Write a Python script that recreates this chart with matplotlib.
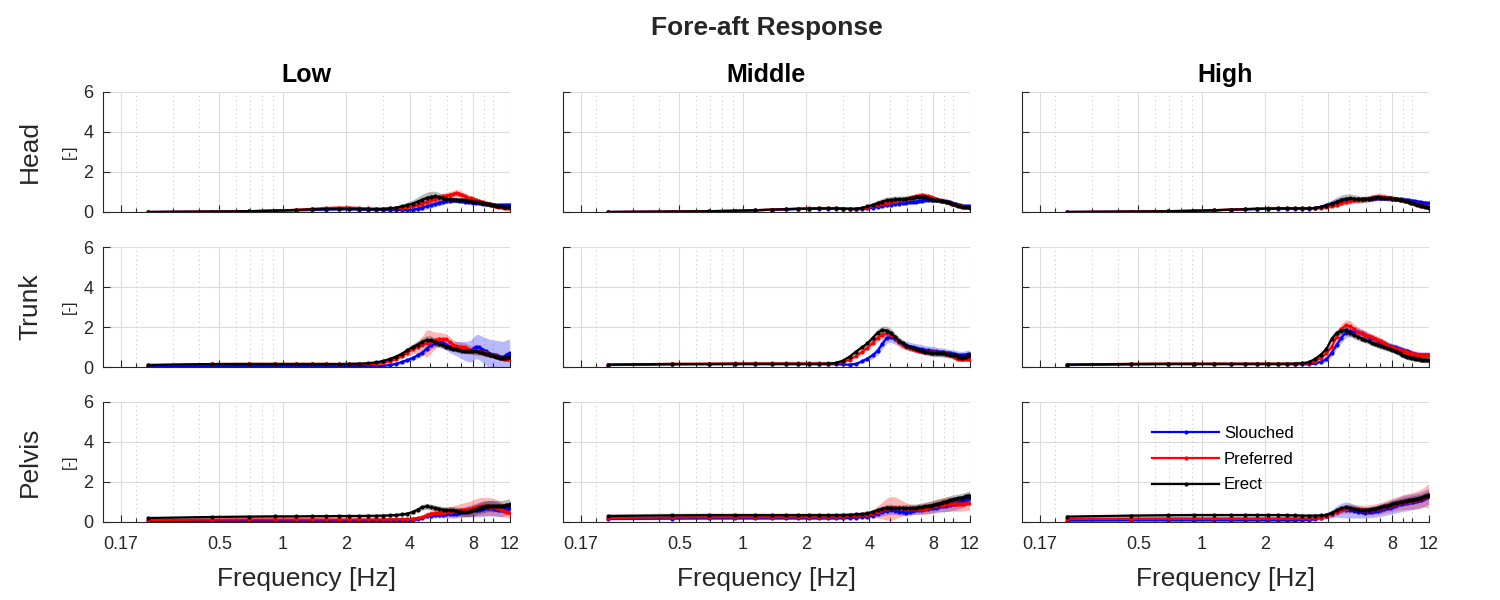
import matplotlib
matplotlib.use('Agg')
import matplotlib.pyplot as plt
import numpy as np
from matplotlib.ticker import FixedLocator, NullFormatter

plt.rcParams['font.family'] = ['Liberation Sans', 'DejaVu Sans']

freq = [0.23, 0.46, 0.69, 0.92, 1.15, 1.38, 1.61, 1.84,
        2.07, 2.30, 2.53, 2.76, 2.99, 3.22, 3.45, 3.68, 3.91,
        4.14, 4.37, 4.60, 4.83, 5.06, 5.29, 5.52, 5.75, 5.98, 6.21, 6.44, 6.67, 6.90, 7.13, 7.36, 7.59, 7.82,
        8.05, 8.28, 8.51, 8.74, 8.97, 9.20, 9.43, 9.66, 9.89, 10.12, 10.35, 10.58, 10.81, 11.04, 11.27, 11.50, 11.73, 11.96]

columns = ['Low', 'Middle', 'High']
rows = ['Head', 'Trunk', 'Pelvis']
postures = ['Slouched', 'Preferred', 'Erect']
colors = ['#0000ff', '#ff0000', '#000000']

x_major = [0.17, 0.5, 1, 2, 4, 8, 12]
x_major_labels = ['0.17', '0.5', '1', '2', '4', '8', '12']
x_minor = [0.2, 0.3, 0.4, 0.6, 0.7, 0.8, 0.9, 3, 5, 6, 7, 9, 10]
y_ticks = [0, 2, 4, 6]

# ---- Low / Head
lh_s = [0.00,0.02,0.04,0.06,0.08,0.10,0.12,0.13, 0.13,0.12,0.11,0.11,0.10,0.10,0.10,0.10,0.10,
        0.12,0.16,0.22,0.28,0.34,0.40,0.45,0.50,0.54,0.57,0.58,0.58,0.56,0.54,0.52,0.50,0.48,
        0.47,0.46,0.45,0.44,0.42,0.40,0.38,0.36,0.35,0.34,0.34,0.34,0.34,0.34,0.35,0.35,0.35,0.35]
lh_p = [0.00,0.02,0.04,0.07,0.11,0.16,0.20,0.22, 0.22,0.20,0.18,0.17,0.17,0.18,0.20,0.22,0.24,
        0.28,0.34,0.42,0.50,0.58,0.65,0.72,0.78,0.82,0.86,0.90,0.95,0.92,0.85,0.78,0.72,0.68,
        0.64,0.60,0.56,0.52,0.48,0.45,0.42,0.38,0.35,0.32,0.30,0.27,0.25,0.23,0.22,0.20,0.20,0.19]
lh_e = [0.00,0.02,0.04,0.07,0.10,0.13,0.15,0.16, 0.16,0.15,0.14,0.14,0.15,0.18,0.22,0.28,0.35,
        0.42,0.52,0.62,0.70,0.76,0.78,0.75,0.70,0.66,0.63,0.62,0.61,0.60,0.60,0.58,0.56,0.54,
        0.52,0.50,0.48,0.46,0.44,0.42,0.40,0.38,0.36,0.34,0.32,0.30,0.29,0.28,0.27,0.26,0.25,0.24]
lh_s_sd = [0.00,0.01,0.01,0.02,0.02,0.03,0.03,0.03, 0.03,0.03,0.03,0.03,0.03,0.03,0.04,0.05,0.06,
           0.08,0.10,0.12,0.13,0.14,0.14,0.14,0.14,0.13,0.13,0.12,0.12,0.12,0.11,0.11,0.10,0.10,
           0.10,0.10,0.09,0.09,0.09,0.09,0.08,0.08,0.08,0.08,0.08,0.08,0.08,0.08,0.09,0.09,0.09,0.09]
lh_p_sd = [0.00,0.01,0.02,0.02,0.03,0.04,0.05,0.05, 0.05,0.05,0.05,0.04,0.04,0.05,0.05,0.06,0.07,
           0.08,0.10,0.12,0.14,0.15,0.16,0.17,0.17,0.17,0.17,0.17,0.18,0.18,0.17,0.16,0.15,0.14,
           0.13,0.12,0.11,0.10,0.10,0.09,0.09,0.08,0.08,0.08,0.07,0.07,0.07,0.07,0.06,0.06,0.06,0.06]
lh_e_sd = [0.00,0.01,0.02,0.02,0.03,0.03,0.04,0.04, 0.04,0.04,0.04,0.04,0.05,0.06,0.08,0.10,0.14,
           0.18,0.22,0.26,0.28,0.28,0.26,0.22,0.18,0.16,0.15,0.14,0.13,0.12,0.12,0.11,0.11,0.10,
           0.10,0.10,0.09,0.09,0.09,0.08,0.08,0.08,0.08,0.07,0.07,0.07,0.07,0.07,0.07,0.07,0.07,0.07]

# ---- Low / Trunk
lt_s = [0.05,0.05,0.05,0.05,0.05,0.05,0.05,0.05, 0.05,0.05,0.05,0.05,0.06,0.10,0.16,0.25,0.35,
        0.45,0.58,0.72,0.92,1.10,1.22,1.27,1.22,1.12,1.02,0.96,0.92,0.88,0.84,0.80,0.78,0.80,
        0.92,1.02,1.00,0.92,0.85,0.78,0.72,0.66,0.62,0.60,0.58,0.55,0.52,0.50,0.52,0.58,0.64,0.68]
lt_p = [0.10,0.15,0.16,0.16,0.16,0.16,0.16,0.15, 0.15,0.15,0.15,0.16,0.20,0.28,0.40,0.55,0.72,
        0.88,1.00,1.10,1.18,1.25,1.33,1.40,1.40,1.38,1.25,1.12,1.05,1.02,1.00,0.98,0.92,0.86,
        0.82,0.80,0.78,0.76,0.73,0.70,0.66,0.62,0.60,0.58,0.54,0.50,0.46,0.43,0.41,0.39,0.38,0.38]
lt_e = [0.10,0.15,0.15,0.15,0.15,0.15,0.15,0.15, 0.16,0.17,0.19,0.23,0.30,0.40,0.52,0.67,0.84,
        1.00,1.12,1.25,1.35,1.33,1.25,1.15,1.08,1.02,0.97,0.92,0.88,0.84,0.81,0.79,0.78,0.78,
        0.78,0.78,0.76,0.73,0.70,0.66,0.63,0.60,0.58,0.56,0.52,0.48,0.45,0.44,0.45,0.47,0.48,0.50]
lt_s_sd = [0.02,0.02,0.02,0.02,0.02,0.02,0.02,0.02, 0.02,0.02,0.02,0.02,0.03,0.04,0.06,0.08,0.10,
           0.12,0.14,0.16,0.18,0.20,0.22,0.24,0.26,0.28,0.30,0.32,0.36,0.40,0.44,0.48,0.52,0.55,
           0.58,0.60,0.62,0.64,0.66,0.68,0.70,0.72,0.74,0.75,0.76,0.77,0.78,0.78,0.78,0.76,0.74,0.72]
lt_p_sd = [0.02,0.03,0.03,0.03,0.03,0.03,0.03,0.03, 0.03,0.03,0.03,0.03,0.04,0.06,0.09,0.12,0.16,
           0.22,0.32,0.45,0.70,0.55,0.42,0.34,0.30,0.28,0.26,0.25,0.24,0.24,0.23,0.22,0.22,0.22,
           0.22,0.22,0.21,0.20,0.19,0.18,0.17,0.16,0.16,0.15,0.14,0.14,0.13,0.13,0.12,0.12,0.12,0.12]
lt_e_sd = [0.02,0.02,0.02,0.02,0.02,0.02,0.02,0.02, 0.02,0.02,0.03,0.04,0.05,0.07,0.09,0.11,0.13,
           0.15,0.17,0.20,0.22,0.22,0.20,0.18,0.17,0.16,0.15,0.14,0.14,0.13,0.13,0.13,0.13,0.13,
           0.13,0.13,0.13,0.13,0.12,0.12,0.12,0.11,0.11,0.11,0.10,0.10,0.10,0.10,0.10,0.10,0.10,0.10]

# ---- Low / Pelvis
lp_s = [0.04,0.05,0.05,0.05,0.05,0.05,0.05,0.05, 0.05,0.05,0.05,0.05,0.05,0.05,0.05,0.05,0.05,
        0.08,0.14,0.22,0.28,0.32,0.35,0.36,0.37,0.38,0.38,0.38,0.40,0.44,0.48,0.52,0.54,0.56,
        0.58,0.60,0.62,0.64,0.66,0.68,0.68,0.68,0.68,0.66,0.64,0.62,0.60,0.60,0.62,0.64,0.66,0.68]
lp_p = [0.10,0.12,0.13,0.13,0.13,0.13,0.13,0.13, 0.13,0.13,0.13,0.13,0.13,0.14,0.14,0.15,0.15,
        0.17,0.20,0.24,0.35,0.42,0.45,0.46,0.47,0.50,0.52,0.54,0.56,0.58,0.60,0.62,0.64,0.66,
        0.70,0.74,0.77,0.78,0.78,0.78,0.78,0.77,0.76,0.74,0.72,0.68,0.64,0.60,0.56,0.52,0.48,0.45]
lp_e = [0.20,0.25,0.27,0.28,0.28,0.29,0.29,0.30, 0.30,0.30,0.31,0.31,0.32,0.33,0.35,0.38,0.42,
        0.50,0.62,0.74,0.78,0.74,0.70,0.66,0.62,0.60,0.60,0.58,0.56,0.52,0.50,0.49,0.50,0.54,
        0.58,0.62,0.68,0.72,0.76,0.78,0.80,0.80,0.80,0.80,0.80,0.80,0.80,0.80,0.82,0.84,0.86,0.88]
lp_s_sd = [0.03,0.03,0.03,0.03,0.03,0.03,0.03,0.03, 0.03,0.03,0.03,0.03,0.03,0.03,0.03,0.04,0.04,
           0.05,0.07,0.09,0.11,0.13,0.14,0.15,0.16,0.17,0.18,0.19,0.20,0.22,0.24,0.26,0.28,0.30,
           0.32,0.34,0.36,0.37,0.38,0.38,0.38,0.38,0.38,0.37,0.36,0.35,0.34,0.33,0.32,0.31,0.30,0.30]
lp_p_sd = [0.04,0.04,0.04,0.04,0.04,0.04,0.04,0.04, 0.04,0.04,0.04,0.04,0.04,0.04,0.05,0.05,0.06,
           0.07,0.09,0.11,0.14,0.16,0.18,0.20,0.22,0.24,0.26,0.28,0.30,0.32,0.34,0.36,0.38,0.40,
           0.42,0.43,0.44,0.45,0.45,0.45,0.45,0.44,0.43,0.42,0.40,0.38,0.36,0.34,0.32,0.30,0.28,0.26]
lp_e_sd = [0.06,0.07,0.07,0.07,0.07,0.07,0.07,0.07, 0.07,0.07,0.07,0.07,0.07,0.07,0.08,0.08,0.09,
           0.10,0.12,0.14,0.15,0.15,0.15,0.15,0.15,0.16,0.17,0.18,0.19,0.20,0.21,0.22,0.23,0.24,
           0.25,0.26,0.27,0.28,0.28,0.28,0.28,0.28,0.28,0.28,0.28,0.28,0.28,0.28,0.28,0.28,0.28,0.28]

# ---- Middle / Head
mh_s = [0.00,0.02,0.04,0.06,0.08,0.11,0.13,0.15, 0.16,0.17,0.17,0.17,0.16,0.15,0.15,0.16,0.18,
        0.22,0.26,0.30,0.34,0.37,0.40,0.42,0.44,0.46,0.48,0.50,0.52,0.55,0.57,0.59,0.60,0.60,
        0.60,0.59,0.58,0.57,0.56,0.54,0.52,0.49,0.46,0.42,0.39,0.36,0.33,0.31,0.30,0.30,0.30,0.30]
mh_p = [0.00,0.02,0.04,0.06,0.09,0.12,0.15,0.17, 0.18,0.19,0.19,0.18,0.17,0.16,0.16,0.18,0.22,
        0.28,0.34,0.40,0.45,0.50,0.55,0.58,0.62,0.66,0.70,0.74,0.78,0.82,0.84,0.82,0.78,0.74,
        0.70,0.66,0.62,0.58,0.55,0.52,0.49,0.46,0.42,0.39,0.36,0.33,0.30,0.28,0.27,0.26,0.26,0.25]
mh_e = [0.00,0.02,0.04,0.06,0.09,0.12,0.14,0.16, 0.17,0.18,0.18,0.18,0.17,0.16,0.16,0.20,0.28,
        0.35,0.44,0.52,0.58,0.61,0.63,0.63,0.64,0.65,0.68,0.71,0.74,0.76,0.76,0.74,0.70,0.66,
        0.62,0.60,0.58,0.56,0.54,0.52,0.49,0.46,0.42,0.38,0.35,0.32,0.29,0.27,0.25,0.24,0.23,0.22]
mh_s_sd = [0.00,0.01,0.01,0.02,0.02,0.03,0.03,0.03, 0.03,0.03,0.03,0.03,0.03,0.03,0.04,0.05,0.06,
           0.07,0.08,0.09,0.10,0.10,0.10,0.10,0.10,0.10,0.10,0.10,0.10,0.10,0.10,0.10,0.10,0.10,
           0.10,0.09,0.09,0.09,0.09,0.08,0.08,0.08,0.08,0.07,0.07,0.07,0.07,0.06,0.06,0.06,0.06,0.06]
mh_p_sd = [0.00,0.01,0.02,0.02,0.03,0.03,0.04,0.04, 0.04,0.04,0.04,0.04,0.04,0.04,0.05,0.06,0.07,
           0.08,0.10,0.12,0.13,0.14,0.14,0.14,0.14,0.14,0.14,0.14,0.14,0.14,0.14,0.14,0.13,0.12,
           0.12,0.11,0.10,0.10,0.09,0.09,0.08,0.08,0.08,0.07,0.07,0.07,0.07,0.06,0.06,0.06,0.06,0.06]
mh_e_sd = [0.00,0.01,0.02,0.02,0.03,0.03,0.04,0.04, 0.04,0.04,0.04,0.04,0.04,0.05,0.06,0.08,0.10,
           0.12,0.14,0.16,0.17,0.17,0.17,0.16,0.16,0.15,0.15,0.14,0.14,0.14,0.13,0.13,0.12,0.12,
           0.11,0.10,0.10,0.09,0.09,0.08,0.08,0.08,0.07,0.07,0.07,0.06,0.06,0.06,0.06,0.06,0.06,0.06]

# ---- Middle / Trunk
mt_s = [0.10,0.13,0.14,0.14,0.14,0.14,0.14,0.14, 0.14,0.14,0.14,0.14,0.13,0.12,0.16,0.28,0.42,
        0.58,0.80,1.15,1.45,1.50,1.38,1.25,1.15,1.08,1.02,0.98,0.95,0.92,0.88,0.85,0.83,0.82,
        0.80,0.78,0.76,0.75,0.74,0.72,0.70,0.68,0.66,0.64,0.62,0.60,0.58,0.58,0.60,0.62,0.64,0.65]
mt_p = [0.12,0.16,0.17,0.18,0.18,0.18,0.18,0.18, 0.18,0.18,0.18,0.19,0.24,0.36,0.55,0.75,0.95,
        1.20,1.45,1.62,1.68,1.62,1.45,1.25,1.12,1.02,0.95,0.90,0.85,0.80,0.78,0.76,0.75,0.74,
        0.74,0.74,0.72,0.70,0.68,0.66,0.64,0.62,0.58,0.52,0.46,0.42,0.40,0.40,0.40,0.40,0.40,0.40]
mt_e = [0.12,0.15,0.15,0.16,0.16,0.16,0.16,0.16, 0.16,0.16,0.17,0.20,0.32,0.52,0.77,0.98,1.18,
        1.45,1.72,1.85,1.82,1.70,1.50,1.32,1.18,1.06,1.00,0.95,0.90,0.84,0.80,0.76,0.73,0.72,
        0.70,0.70,0.70,0.68,0.68,0.66,0.64,0.62,0.62,0.60,0.58,0.52,0.48,0.45,0.48,0.52,0.56,0.60]
mt_s_sd = [0.02,0.02,0.02,0.02,0.02,0.02,0.02,0.02, 0.02,0.02,0.02,0.02,0.02,0.03,0.05,0.08,0.12,
           0.16,0.20,0.24,0.26,0.26,0.24,0.22,0.22,0.22,0.22,0.22,0.22,0.22,0.22,0.22,0.22,0.22,
           0.22,0.22,0.21,0.21,0.20,0.20,0.20,0.20,0.20,0.20,0.20,0.20,0.20,0.20,0.20,0.20,0.20,0.20]
mt_p_sd = [0.02,0.03,0.03,0.03,0.03,0.03,0.03,0.03, 0.03,0.03,0.03,0.03,0.04,0.05,0.07,0.10,0.13,
           0.16,0.18,0.20,0.20,0.19,0.18,0.17,0.16,0.15,0.14,0.14,0.13,0.13,0.13,0.13,0.13,0.13,
           0.13,0.13,0.13,0.12,0.12,0.12,0.12,0.12,0.12,0.12,0.12,0.12,0.12,0.12,0.12,0.12,0.12,0.12]
mt_e_sd = [0.02,0.02,0.02,0.02,0.02,0.02,0.02,0.02, 0.02,0.02,0.02,0.03,0.04,0.06,0.08,0.10,0.12,
           0.14,0.17,0.20,0.22,0.22,0.20,0.18,0.16,0.15,0.14,0.14,0.14,0.14,0.15,0.16,0.17,0.18,
           0.18,0.18,0.18,0.18,0.18,0.18,0.18,0.18,0.18,0.18,0.17,0.17,0.16,0.16,0.16,0.16,0.16,0.16]

# ---- Middle / Pelvis
mp_s = [0.15,0.17,0.18,0.18,0.18,0.18,0.18,0.18, 0.18,0.18,0.18,0.18,0.19,0.20,0.22,0.24,0.27,
        0.32,0.40,0.48,0.55,0.58,0.56,0.52,0.48,0.47,0.50,0.54,0.58,0.60,0.62,0.64,0.66,0.68,
        0.70,0.72,0.75,0.78,0.80,0.82,0.84,0.86,0.88,0.90,0.92,0.95,0.98,1.02,1.06,1.10,1.14,1.18]
mp_p = [0.20,0.23,0.24,0.24,0.24,0.24,0.24,0.24, 0.24,0.24,0.24,0.25,0.26,0.28,0.30,0.33,0.36,
        0.42,0.50,0.58,0.64,0.68,0.70,0.70,0.68,0.66,0.65,0.64,0.63,0.63,0.64,0.66,0.70,0.74,
        0.78,0.82,0.85,0.86,0.87,0.88,0.88,0.89,0.90,0.90,0.90,0.90,0.90,0.90,0.92,0.93,0.93,0.94]
mp_e = [0.30,0.33,0.34,0.34,0.34,0.34,0.34,0.34, 0.34,0.34,0.34,0.34,0.35,0.36,0.38,0.40,0.43,
        0.50,0.58,0.66,0.72,0.72,0.70,0.70,0.70,0.70,0.70,0.70,0.71,0.73,0.75,0.78,0.80,0.82,
        0.85,0.88,0.92,0.95,0.98,1.02,1.06,1.10,1.12,1.14,1.16,1.18,1.20,1.22,1.25,1.28,1.30,1.32]
mp_s_sd = [0.05,0.05,0.05,0.05,0.05,0.05,0.05,0.05, 0.05,0.05,0.05,0.05,0.05,0.05,0.06,0.07,0.08,
           0.10,0.14,0.18,0.20,0.20,0.18,0.17,0.16,0.16,0.17,0.18,0.19,0.20,0.21,0.22,0.23,0.24,
           0.25,0.26,0.27,0.28,0.29,0.30,0.30,0.30,0.30,0.30,0.30,0.30,0.30,0.30,0.30,0.30,0.30,0.30]
mp_p_sd = [0.05,0.05,0.05,0.05,0.05,0.05,0.05,0.05, 0.05,0.05,0.05,0.05,0.05,0.06,0.08,0.10,0.14,
           0.20,0.30,0.42,0.55,0.60,0.56,0.46,0.38,0.30,0.26,0.25,0.25,0.26,0.27,0.28,0.29,0.30,
           0.31,0.32,0.33,0.34,0.35,0.36,0.36,0.36,0.36,0.36,0.36,0.36,0.36,0.36,0.36,0.36,0.36,0.36]
mp_e_sd = [0.10,0.11,0.11,0.11,0.11,0.11,0.11,0.11, 0.11,0.11,0.11,0.11,0.11,0.11,0.11,0.12,0.12,
           0.13,0.14,0.15,0.16,0.16,0.16,0.16,0.16,0.16,0.17,0.18,0.19,0.20,0.21,0.22,0.22,0.22,
           0.22,0.22,0.22,0.22,0.22,0.22,0.22,0.22,0.22,0.22,0.22,0.22,0.22,0.22,0.22,0.22,0.22,0.22]

# ---- High / Head
rh_s = [0.00,0.02,0.04,0.06,0.08,0.11,0.13,0.15, 0.16,0.17,0.17,0.17,0.17,0.17,0.20,0.26,0.34,
        0.42,0.50,0.56,0.60,0.62,0.63,0.63,0.64,0.65,0.66,0.67,0.68,0.68,0.68,0.68,0.68,0.68,
        0.67,0.66,0.65,0.64,0.63,0.62,0.61,0.59,0.57,0.55,0.53,0.52,0.50,0.48,0.47,0.46,0.45,0.44]
rh_p = [0.00,0.02,0.04,0.06,0.09,0.12,0.15,0.17, 0.18,0.19,0.19,0.19,0.18,0.18,0.19,0.22,0.26,
        0.30,0.36,0.44,0.50,0.54,0.58,0.60,0.62,0.64,0.66,0.70,0.74,0.77,0.76,0.74,0.72,0.70,
        0.68,0.66,0.64,0.62,0.60,0.57,0.54,0.50,0.47,0.44,0.41,0.38,0.35,0.32,0.30,0.28,0.27,0.26]
rh_e = [0.00,0.02,0.04,0.06,0.09,0.12,0.14,0.16, 0.17,0.18,0.18,0.18,0.18,0.18,0.20,0.25,0.32,
        0.40,0.50,0.60,0.66,0.68,0.66,0.64,0.63,0.64,0.66,0.70,0.72,0.73,0.72,0.70,0.68,0.68,
        0.67,0.66,0.64,0.62,0.60,0.57,0.54,0.50,0.46,0.43,0.40,0.37,0.34,0.31,0.28,0.26,0.24,0.22]
rh_s_sd = [0.00,0.01,0.01,0.02,0.02,0.03,0.03,0.03, 0.03,0.03,0.03,0.03,0.03,0.03,0.05,0.08,0.12,
           0.16,0.18,0.18,0.16,0.14,0.12,0.11,0.10,0.10,0.10,0.10,0.10,0.10,0.10,0.10,0.10,0.10,
           0.10,0.09,0.09,0.09,0.09,0.08,0.08,0.08,0.08,0.08,0.08,0.08,0.08,0.08,0.08,0.08,0.08,0.08]
rh_p_sd = [0.00,0.01,0.02,0.02,0.03,0.03,0.04,0.04, 0.04,0.04,0.04,0.04,0.04,0.04,0.05,0.06,0.07,
           0.09,0.11,0.13,0.14,0.15,0.15,0.15,0.15,0.15,0.16,0.17,0.18,0.18,0.17,0.16,0.15,0.14,
           0.13,0.12,0.11,0.10,0.10,0.09,0.09,0.08,0.08,0.08,0.07,0.07,0.07,0.07,0.06,0.06,0.06,0.06]
rh_e_sd = [0.00,0.01,0.02,0.02,0.03,0.03,0.04,0.04, 0.04,0.04,0.04,0.04,0.04,0.05,0.07,0.10,0.14,
           0.18,0.22,0.24,0.24,0.22,0.20,0.18,0.16,0.15,0.15,0.15,0.15,0.15,0.14,0.14,0.13,0.13,
           0.12,0.12,0.11,0.10,0.10,0.09,0.09,0.08,0.08,0.08,0.07,0.07,0.07,0.07,0.07,0.07,0.07,0.07]

# ---- High / Trunk
rt_s = [0.10,0.13,0.14,0.14,0.14,0.14,0.14,0.14, 0.14,0.14,0.14,0.14,0.14,0.14,0.18,0.26,0.38,
        0.70,1.10,1.45,1.72,1.78,1.78,1.75,1.68,1.60,1.52,1.45,1.38,1.30,1.24,1.18,1.12,1.06,
        1.02,0.98,0.94,0.90,0.86,0.82,0.78,0.74,0.70,0.66,0.63,0.61,0.60,0.60,0.60,0.60,0.60,0.60]
rt_p = [0.12,0.16,0.17,0.17,0.17,0.17,0.17,0.17, 0.17,0.17,0.17,0.17,0.18,0.20,0.30,0.45,0.68,
        1.00,1.50,1.90,2.08,2.05,1.90,1.75,1.68,1.62,1.55,1.48,1.42,1.36,1.28,1.18,1.08,1.02,
        0.98,0.94,0.90,0.86,0.82,0.78,0.74,0.70,0.68,0.66,0.64,0.62,0.60,0.58,0.58,0.58,0.58,0.58]
rt_e = [0.12,0.15,0.16,0.16,0.16,0.16,0.16,0.16, 0.16,0.16,0.16,0.17,0.19,0.24,0.40,0.62,0.90,
        1.40,1.70,1.82,1.86,1.72,1.58,1.50,1.42,1.35,1.28,1.20,1.14,1.08,1.03,0.98,0.94,0.90,
        0.85,0.80,0.74,0.68,0.62,0.56,0.52,0.48,0.45,0.43,0.42,0.40,0.38,0.36,0.35,0.34,0.34,0.33]
rt_s_sd = [0.02,0.02,0.02,0.02,0.02,0.02,0.02,0.02, 0.02,0.02,0.02,0.02,0.02,0.03,0.05,0.08,0.12,
           0.16,0.20,0.24,0.26,0.26,0.24,0.22,0.20,0.18,0.17,0.16,0.16,0.16,0.16,0.16,0.16,0.16,
           0.16,0.16,0.16,0.16,0.16,0.16,0.16,0.16,0.15,0.15,0.15,0.15,0.15,0.15,0.15,0.15,0.15,0.15]
rt_p_sd = [0.02,0.03,0.03,0.03,0.03,0.03,0.03,0.03, 0.03,0.03,0.03,0.03,0.04,0.05,0.07,0.10,0.14,
           0.18,0.22,0.26,0.28,0.28,0.26,0.24,0.22,0.20,0.19,0.18,0.18,0.18,0.18,0.18,0.18,0.18,
           0.18,0.18,0.18,0.18,0.18,0.18,0.18,0.18,0.17,0.17,0.17,0.17,0.17,0.17,0.16,0.16,0.16,0.16]
rt_e_sd = [0.02,0.02,0.02,0.02,0.02,0.02,0.02,0.02, 0.02,0.02,0.02,0.03,0.04,0.05,0.07,0.10,0.13,
           0.16,0.18,0.20,0.20,0.19,0.18,0.17,0.16,0.15,0.14,0.14,0.14,0.14,0.14,0.14,0.14,0.14,
           0.14,0.14,0.14,0.14,0.14,0.14,0.14,0.14,0.13,0.13,0.13,0.13,0.13,0.13,0.13,0.13,0.13,0.13]

# ---- High / Pelvis
rp_s = [0.07,0.08,0.08,0.08,0.08,0.08,0.08,0.08, 0.08,0.08,0.08,0.08,0.09,0.10,0.14,0.22,0.32,
        0.42,0.52,0.58,0.60,0.58,0.54,0.50,0.48,0.47,0.48,0.50,0.53,0.56,0.60,0.64,0.68,0.72,
        0.76,0.80,0.84,0.88,0.92,0.94,0.96,0.98,1.00,1.02,1.04,1.06,1.08,1.12,1.16,1.20,1.24,1.28]
rp_p = [0.15,0.17,0.18,0.18,0.18,0.18,0.18,0.18, 0.18,0.18,0.18,0.18,0.18,0.18,0.19,0.22,0.28,
        0.38,0.50,0.60,0.66,0.68,0.66,0.63,0.61,0.60,0.60,0.62,0.64,0.66,0.70,0.74,0.78,0.82,
        0.86,0.89,0.92,0.95,0.98,1.00,1.02,1.04,1.06,1.08,1.10,1.12,1.15,1.18,1.22,1.25,1.28,1.30]
rp_e = [0.27,0.32,0.34,0.35,0.35,0.35,0.35,0.35, 0.35,0.35,0.34,0.33,0.32,0.32,0.32,0.33,0.36,
        0.45,0.58,0.68,0.73,0.70,0.66,0.62,0.60,0.60,0.62,0.64,0.66,0.70,0.74,0.78,0.82,0.86,
        0.90,0.93,0.96,0.99,1.02,1.04,1.06,1.08,1.10,1.12,1.14,1.16,1.18,1.20,1.24,1.28,1.32,1.36]
rp_s_sd = [0.04,0.04,0.04,0.04,0.04,0.04,0.04,0.04, 0.04,0.04,0.04,0.04,0.04,0.05,0.07,0.10,0.14,
           0.20,0.28,0.36,0.40,0.38,0.34,0.30,0.28,0.27,0.27,0.28,0.29,0.30,0.31,0.32,0.33,0.34,
           0.35,0.36,0.37,0.38,0.39,0.40,0.40,0.40,0.40,0.40,0.40,0.40,0.40,0.40,0.40,0.40,0.40,0.40]
rp_p_sd = [0.05,0.05,0.05,0.05,0.05,0.05,0.05,0.05, 0.05,0.05,0.05,0.05,0.05,0.06,0.07,0.09,0.12,
           0.15,0.18,0.20,0.21,0.21,0.21,0.22,0.23,0.24,0.25,0.26,0.27,0.28,0.29,0.30,0.31,0.32,
           0.33,0.34,0.35,0.36,0.37,0.38,0.39,0.40,0.41,0.42,0.43,0.44,0.45,0.46,0.48,0.52,0.56,0.60]
rp_e_sd = [0.06,0.07,0.07,0.07,0.07,0.07,0.07,0.07, 0.07,0.07,0.07,0.07,0.07,0.07,0.08,0.08,0.09,
           0.10,0.12,0.13,0.14,0.14,0.14,0.14,0.14,0.14,0.14,0.15,0.15,0.16,0.16,0.17,0.17,0.18,
           0.18,0.18,0.19,0.19,0.19,0.20,0.20,0.20,0.20,0.20,0.20,0.20,0.20,0.20,0.20,0.20,0.20,0.20]

panels = [
    [(lh_s, lh_p, lh_e, lh_s_sd, lh_p_sd, lh_e_sd),
     (mh_s, mh_p, mh_e, mh_s_sd, mh_p_sd, mh_e_sd),
     (rh_s, rh_p, rh_e, rh_s_sd, rh_p_sd, rh_e_sd)],
    [(lt_s, lt_p, lt_e, lt_s_sd, lt_p_sd, lt_e_sd),
     (mt_s, mt_p, mt_e, mt_s_sd, mt_p_sd, mt_e_sd),
     (rt_s, rt_p, rt_e, rt_s_sd, rt_p_sd, rt_e_sd)],
    [(lp_s, lp_p, lp_e, lp_s_sd, lp_p_sd, lp_e_sd),
     (mp_s, mp_p, mp_e, mp_s_sd, mp_p_sd, mp_e_sd),
     (rp_s, rp_p, rp_e, rp_s_sd, rp_p_sd, rp_e_sd)],
]

fig = plt.figure(figsize=(15, 6), dpi=100)
lefts = [0.0687, 0.3753, 0.6813]
bottoms = [0.6467, 0.3883, 0.13]
w, h = 0.2713, 0.2
f = np.array(freq)
axc = '#262626'

for r in range(3):
    for c in range(3):
        ax = fig.add_axes([lefts[c], bottoms[r], w, h])
        vals = panels[r][c]
        for i in range(3):
            m = np.array(vals[i])
            sd = np.array(vals[i + 3])
            ax.fill_between(f, m - sd, m + sd, color=colors[i], alpha=0.28, lw=0)
        for i in range(3):
            ax.plot(f, vals[i], color=colors[i], lw=1.6, marker='.', ms=4, label=postures[i])

        ax.set_xscale('log')
        ax.set_xlim(0.14, 12)
        ax.set_ylim(0, 6)
        ax.xaxis.set_major_locator(FixedLocator(x_major))
        ax.xaxis.set_minor_locator(FixedLocator(x_minor))
        ax.xaxis.set_minor_formatter(NullFormatter())
        ax.set_yticks(y_ticks)
        if r == 2:
            ax.set_xticklabels(x_major_labels)
            ax.set_xlabel('Frequency [Hz]', fontsize=19, color=axc, labelpad=10)
        else:
            ax.set_xticklabels([])
        if c == 0:
            ax.set_yticklabels([str(v) for v in y_ticks])
        else:
            ax.set_yticklabels([])
        ax.tick_params(which='both', direction='in', colors=axc, labelsize=13, width=0.8)
        ax.tick_params(which='major', length=5)
        ax.tick_params(which='minor', length=3)
        ax.tick_params(axis='x', which='both', pad=10)
        ax.tick_params(axis='y', pad=7)
        ax.grid(True, which='major', color='#dcdcdc', lw=0.8)
        ax.grid(True, which='minor', axis='x', color='#c8c8c8', lw=0.8, ls=(0, (1, 3)))
        ax.set_axisbelow(True)
        for s in ['top', 'right']:
            ax.spines[s].set_visible(False)
        for s in ['left', 'bottom']:
            ax.spines[s].set_color(axc)
            ax.spines[s].set_linewidth(0.8)
        if r == 0:
            ax.set_title(columns[c], fontsize=18, fontweight='bold', pad=7)
        if r == 2 and c == 2:
            ax.legend(loc='upper left', bbox_to_anchor=(0.32, 0.80), frameon=False,
                      fontsize=12, handlelength=4.0, handletextpad=0.3,
                      labelspacing=0.64, borderpad=0, borderaxespad=0)

for r in range(3):
    yc = bottoms[r] + h / 2
    fig.text(0.02, yc, rows[r], rotation=90, fontsize=19, ha='center', va='center', color=axc)
    fig.text(0.046, yc, '[-]', rotation=90, fontsize=12, ha='center', va='center', color=axc)

fig.text(0.511, 0.953, 'Fore-aft Response', fontsize=19, fontweight='bold', ha='center', va='center', color=axc)

fig.savefig('out.png', dpi=100)
